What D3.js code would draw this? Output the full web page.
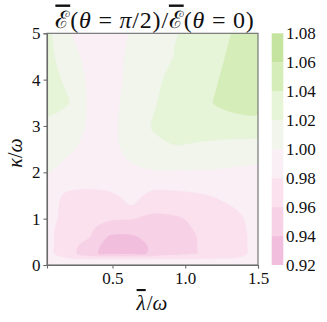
<!DOCTYPE html>
<html><head><meta charset="utf-8">
<script src="https://cdn.jsdelivr.net/npm/d3@7"></script>
<style>
html,body{margin:0;padding:0;background:#fff;}
svg text{font-family:"Liberation Serif","DejaVu Serif",serif;fill:#111;}
</style></head>
<body><svg id="c" width="327" height="322"></svg>
<script>
// ---- data ----
const lambdaVals = [0.05, 0.195, 0.34, 0.485, 0.63, 0.775, 0.92, 1.065, 1.21, 1.355, 1.5];
const kappaVals = [0, 0.12, 0.25, 0.4, 0.6, 0.8, 1.0, 1.25, 1.5, 1.75, 2.0, 2.5, 3.0, 3.5, 4.0, 4.5, 5.0];
// ratio rows, one per kappa value (bottom to top), one entry per lambda value
const ratio = [
  [0.992, 0.991, 0.990, 0.990, 0.990, 0.990, 0.990, 0.990, 0.991, 0.992, 0.993],
  [0.986, 0.982, 0.982, 0.982, 0.982, 0.982, 0.982, 0.982, 0.982, 0.982, 0.987],
  [0.984, 0.972, 0.943, 0.936, 0.935, 0.942, 0.952, 0.959, 0.967, 0.975, 0.985],
  [0.984, 0.972, 0.946, 0.934, 0.933, 0.942, 0.951, 0.959, 0.967, 0.975, 0.985],
  [0.984, 0.972, 0.961, 0.936, 0.937, 0.946, 0.953, 0.959, 0.968, 0.975, 0.985],
  [0.984, 0.973, 0.963, 0.952, 0.948, 0.949, 0.953, 0.961, 0.969, 0.976, 0.985],
  [0.985, 0.975, 0.967, 0.962, 0.961, 0.955, 0.957, 0.963, 0.970, 0.977, 0.986],
  [0.986, 0.975, 0.972, 0.974, 0.979, 0.966, 0.967, 0.971, 0.976, 0.981, 0.988],
  [0.987, 0.977, 0.975, 0.977, 0.985, 0.976, 0.977, 0.978, 0.981, 0.986, 0.990],
  [0.992, 0.985, 0.984, 0.986, 0.990, 0.985, 0.984, 0.986, 0.989, 0.992, 0.995],
  [1.0005, 0.997, 0.994, 0.994, 0.997, 0.998, 0.998, 0.998, 0.998, 0.997, 0.996],
  [1.006, 1.001, 0.998, 0.996, 1.004, 1.016, 1.018, 1.016, 1.012, 1.009, 1.006],
  [1.014, 1.008, 0.998, 0.996, 1.006, 1.021, 1.028, 1.030, 1.032, 1.034, 1.033],
  [1.028, 1.021, 0.997, 0.995, 1.006, 1.018, 1.027, 1.033, 1.041, 1.045, 1.047],
  [1.026, 1.017, 0.996, 0.994, 1.004, 1.016, 1.024, 1.030, 1.039, 1.046, 1.050],
  [1.027, 1.008, 0.994, 0.994, 1.003, 1.012, 1.020, 1.027, 1.036, 1.045, 1.050],
  [1.025, 1.001, 0.992, 0.994, 1.001, 1.012, 1.018, 1.026, 1.034, 1.042, 1.050]
];
const levels = [0.92, 0.94, 0.96, 0.98, 1.00, 1.02, 1.04, 1.06, 1.08];
const bandColors = ["#f1bedd", "#f7d2e7", "#fbe1ee", "#f9eff5", "#f1f5ec", "#e6f4d8", "#d5edb8", "#c4e49f"];
const xTicks = [0.5, 1.0, 1.5];
const yTicks = [0, 1, 2, 3, 4, 5];

// ---- layout ----
const L = 47, R = 258, T = 33.3, B = 265;
const svg = d3.select("#c");
const x = d3.scaleLinear().domain([0.05, 1.5]).range([L, R]);
const y = d3.scaleLinear().domain([0, 5]).range([B, T]);

const nx = lambdaVals.length, ny = kappaVals.length;
const colIdx = d3.scaleLinear().domain(d3.range(nx)).range(lambdaVals);
const rowIdx = d3.scaleLinear().domain(d3.range(ny)).range(kappaVals);
const flat = ratio.flat();

svg.append("clipPath").attr("id", "clip")
  .append("rect").attr("x", L).attr("y", T).attr("width", R - L).attr("height", B - T);

const contours = d3.contours().size([nx, ny]).smooth(true).thresholds(levels.slice(0, -1))(flat);
const line = d3.line().curve(d3.curveCatmullRomClosed.alpha(0.5));
const toPx = p => [x(colIdx(p[0] - 0.5)), y(rowIdx(p[1] - 0.5))];

const g = svg.append("g").attr("clip-path", "url(#clip)");
contours.forEach((c, i) => {
  let d = "";
  c.coordinates.forEach(poly => poly.forEach(ring => {
    d += line(ring.slice(0, -1).map(toPx));
  }));
  g.append("path").attr("d", d).attr("fill", bandColors[i]).attr("fill-rule", "evenodd")
    .attr("stroke", bandColors[i]).attr("stroke-width", 0.3);
});

// frame
svg.append("rect").attr("x", L).attr("y", T).attr("width", R - L).attr("height", B - T)
  .attr("fill", "none").attr("stroke", "#6b6b6b").attr("stroke-width", 1.1);

// axes
const ax = svg.append("g").attr("transform", `translate(0,${B})`)
  .call(d3.axisBottom(x).tickValues(xTicks).tickFormat(d3.format(".1f")).tickSize(3.5).tickPadding(3));
const ay = svg.append("g").attr("transform", `translate(${L},0)`)
  .call(d3.axisLeft(y).tickValues(yTicks).tickFormat(d3.format("d")).tickSize(3.5).tickPadding(3));
[ax, ay].forEach(a => {
  a.select(".domain").attr("stroke", "#6b6b6b").attr("stroke-width", 1.1);
  a.selectAll(".tick line").attr("stroke", "#6b6b6b").attr("stroke-width", 1.1);
  a.selectAll(".tick text").attr("font-family", "Liberation Serif").attr("font-size", 17).attr("fill", "#111");
});

// colorbar
const cb = d3.scaleLinear().domain([0.92, 1.08]).range([B, T]);
const cbx = 271.7, cbw = 11.6;
svg.append("g").selectAll("rect").data(bandColors).join("rect")
  .attr("x", cbx).attr("width", cbw)
  .attr("y", (d, i) => cb(levels[i + 1]))
  .attr("height", (d, i) => cb(levels[i]) - cb(levels[i + 1]))
  .attr("fill", d => d);
svg.append("g").selectAll("text").data(levels).join("text")
  .attr("x", 286).attr("y", d => cb(d)).attr("dy", "0.35em")
  .attr("font-size", 17).text(d => d3.format(".2f")(d));

// title
const title = svg.append("text").attr("x", 155).attr("y", 27.5).attr("text-anchor", "middle")
  .attr("font-size", 24).attr("letter-spacing", "0.8px");
title.append("tspan").attr("style", "text-decoration:overline").text("ℰ");
title.append("tspan").text("(");
title.append("tspan").attr("font-style", "italic").text("θ");
title.append("tspan").text(" = ");
title.append("tspan").attr("font-style", "italic").text("π");
title.append("tspan").text("/2)/");
title.append("tspan").attr("style", "text-decoration:overline").text("ℰ");
title.append("tspan").text("(");
title.append("tspan").attr("font-style", "italic").text("θ");
title.append("tspan").text(" = 0)");

// axis labels
svg.append("text").attr("x", 152).attr("y", 310).attr("text-anchor", "middle").attr("font-size", 21)
  .html('<tspan font-style="italic" style="text-decoration:overline">λ</tspan><tspan dx="1">/</tspan><tspan font-style="italic">ω</tspan>');
svg.append("text").attr("transform", "translate(22,153) rotate(-90)").attr("text-anchor", "middle").attr("font-size", 20)
  .html('<tspan font-style="italic">κ</tspan>/<tspan font-style="italic">ω</tspan>');
</script></body></html>
